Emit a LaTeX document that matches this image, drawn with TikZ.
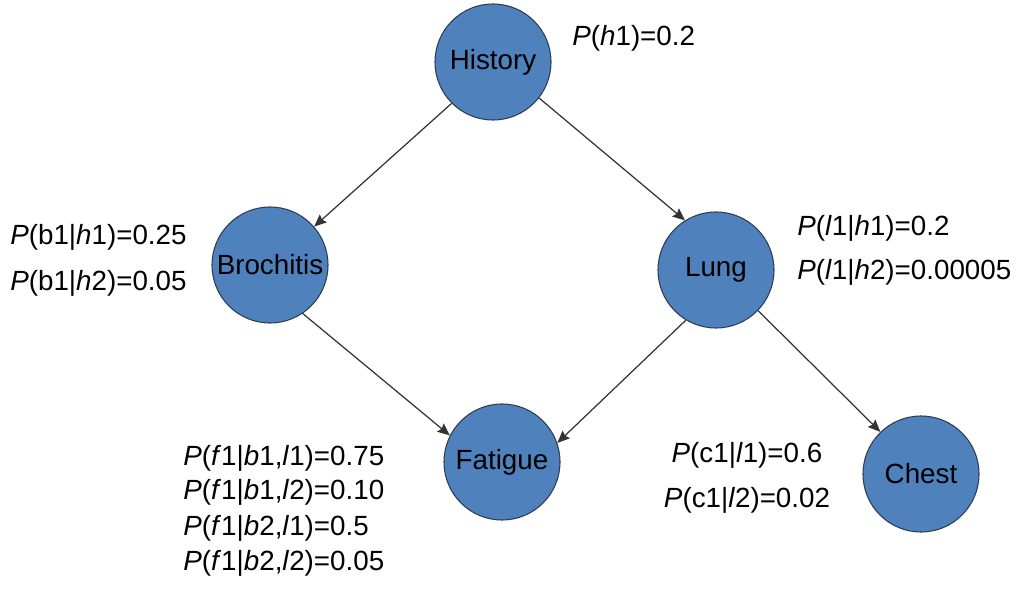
\documentclass[tikz,border=0pt]{standalone}
\usepackage{fontspec}
\setmainfont{Liberation Sans}
\usetikzlibrary{positioning, arrows.meta}
\definecolor{bnblue}{RGB}{79,129,189}
\definecolor{bnedge}{RGB}{45,60,80}
\tikzset{
    varnode/.style={circle, draw=bnedge, fill=bnblue, minimum size=2.32cm, inner sep=0pt, align=center, font=\fontsize{15.8}{18}\selectfont, line width=0.6pt},
    cpt/.style={font=\fontsize{15.8}{18}\selectfont, inner sep=0pt, anchor=west},
    arr/.style={-{Stealth[length=7pt, width=6pt, inset=1pt]}, line width=0.7pt, color=black!80}
}
\begin{document}
\begin{tikzpicture}
    \useasboundingbox (0,0) rectangle (20.4,11.8);
    % Variables
    \node[varnode] (hist) at (9.86,10.56) {History};
    \node[varnode] (bron) at (5.40,6.50) {Brochitis};
    \node[varnode] (lung) at (14.32,6.40) {Lung};
    \node[varnode] (fati) at (10.04,2.56) {Fatigue};
    \node[varnode] (ches) at (18.42,2.32) {Chest};

    % Tables
    \node[cpt] (phist) at (11.44,11.04) {\textit{P}(\textit{h}1)=0.2};
    \node[cpt] (pbron1) at (0.20,7.06) {\textit{P}(b1|\textit{h}1)=0.25};
    \node[cpt] (pbron2) at (0.20,6.14) {\textit{P}(b1|\textit{h}2)=0.05};
    \node[cpt] (plung1) at (15.94,7.24) {\textit{P}(\textit{l}1|\textit{h}1)=0.2};
    \node[cpt] (plung2) at (15.94,6.36) {\textit{P}(\textit{l}1|\textit{h}2)=0.00005};
    \node[cpt] (pfati1) at (3.66,2.64) {\textit{P}(\textit{f}1|\textit{b}1,\textit{l}1)=0.75};
    \node[cpt] (pfati2) at (3.66,1.96) {\textit{P}(\textit{f}1|\textit{b}1,\textit{l}2)=0.10};
    \node[cpt] (pfati3) at (3.66,1.24) {\textit{P}(\textit{f}1|\textit{b}2,\textit{l}1)=0.5};
    \node[cpt] (pfati4) at (3.66,0.54) {\textit{P}(\textit{f}1|\textit{b}2,\textit{l}2)=0.05};
    \node[cpt, anchor=center] (pches1) at (14.94,2.70) {\textit{P}(c1|\textit{l}1)=0.6};
    \node[cpt, anchor=center] (pches2) at (14.94,1.80) {\textit{P}(c1|\textit{l}2)=0.02};

    % Arrows
    \draw[arr] (hist.225) -- (bron.41);
    \draw[arr] (hist.322) -- (lung.122);
    \draw[arr] (bron.304) -- (fati.153);
    \draw[arr] (lung.239) -- (fati.19);
    \draw[arr] (lung.316) -- (ches.134);
\end{tikzpicture}
\end{document}
